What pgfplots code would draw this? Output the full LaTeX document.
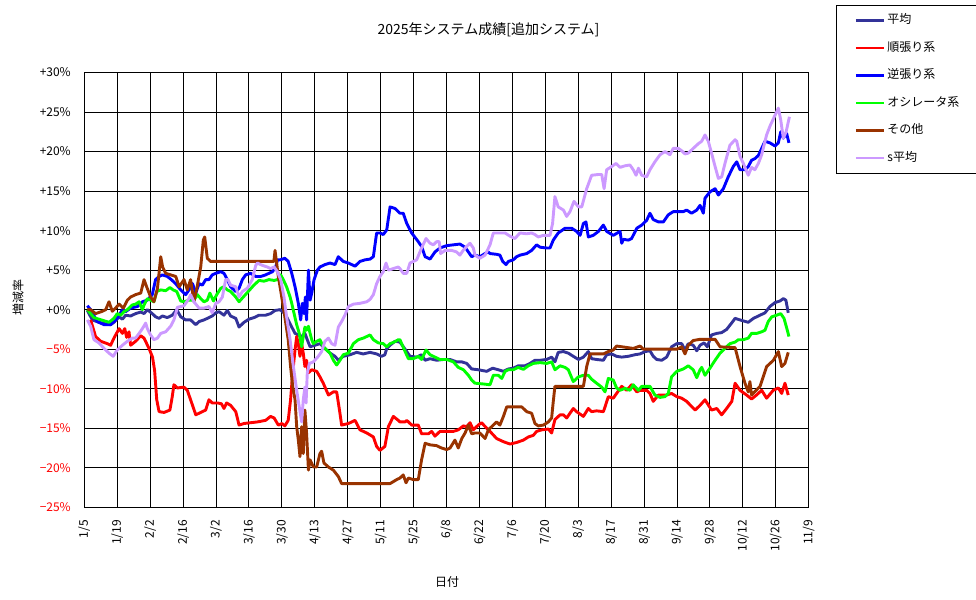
\documentclass[border=0pt]{standalone}
\usepackage{fontspec}
\setmainfont{Noto Sans CJK JP}
\usepackage{pgfplots}
\pgfplotsset{compat=1.18}
\definecolor{cavg}{HTML}{333399}
\definecolor{cjun}{HTML}{FF0000}
\definecolor{cgyaku}{HTML}{0000FF}
\definecolor{cosc}{HTML}{00FF00}
\definecolor{cother}{HTML}{993300}
\definecolor{csavg}{HTML}{CC99FF}
\begin{document}
\begin{tikzpicture}
\path[use as bounding box] (0pt,0pt) rectangle (976pt,-599pt);
\node[font=\fontsize{14}{14}\selectfont] at (488.5pt,-30pt) {2025年システム成績[追加システム]};
\node[font=\fontsize{12}{12}\selectfont] at (447pt,-582pt) {日付};
\node[font=\fontsize{12}{12}\selectfont, rotate=90] at (18pt,-297pt) {増減率};
\begin{axis}[
  at={(84.3pt,-507.3pt)}, anchor=south west,
  scale only axis, width=724.4pt, height=434.8pt,
  xmin=0, xmax=308, ymin=-25, ymax=30,
  xtick={0,14,28,42,56,70,84,98,112,126,140,154,168,182,196,210,224,238,252,266,280,294,308},
  xticklabels={1/5,1/19,2/2,2/16,3/2,3/16,3/30,4/13,4/27,5/11,5/25,6/8,6/22,7/6,7/20,8/3,8/17,8/31,9/14,9/28,10/12,10/26,11/9},
  ytick={0,5,10,15,20,25,30},
  yticklabels={+0\%,+5\%,+10\%,+15\%,+20\%,+25\%,+30\%},
  extra y ticks={-25,-20,-15,-10,-5},
  extra y tick labels={−25\%,−20\%,−15\%,−10\%,−5\%},
  extra y tick style={yticklabel style={text=red}, grid=major},
  grid=major, major grid style={black, line width=1pt},
  axis line style={black, line width=1pt},
  major tick length=0pt,
  tick label style={font=\fontsize{12}{12}\selectfont, inner sep=0pt},
  xticklabel style={rotate=90, anchor=east},
  xticklabel shift=12.7pt,
  yticklabel shift=13.3pt,
  legend cell align=left,
  legend image code/.code={\draw[#1] (0pt,0pt) -- (28pt,0pt);},
  legend style={at={(axis description cs:1.0377,1.1552)}, anchor=north west,
    draw=black, line width=1pt, inner xsep=18pt, inner ysep=9pt,
    row sep=15.5pt, column sep=2pt,
    font=\fontsize{12}{12}\selectfont,
    nodes={inner sep=0pt, text height=9pt, text depth=3pt}},
  every axis plot/.append style={line width=2.9pt, line join=round},
]
% 平均
\addplot[cavg] coordinates {
(1.3,-0.1) (3.4,-1.3) (6.2,-1.6) (9.1,-1.8) (11.2,-1.9) (12.6,-1.6) (14.8,-0.9) (16.2,-1.2) (17.6,-0.7) (19.7,-0.8) (21.8,-0.5) (24.0,-0.3) (25.4,-0.5) (26.8,0.0) (28.9,-0.5) (30.3,-0.9) (31.8,-1.1) (33.2,-0.8) (35.3,-1.0) (37.4,-0.7) (39.3,0.0) (41.0,-0.9) (43.1,-1.3) (45.2,-1.3) (47.4,-1.9) (48.8,-1.5) (50.9,-1.3) (53.0,-1.0) (54.4,-0.8) (55.9,-0.4) (57.3,-0.25) (59.4,-0.7) (60.8,-0.1) (62.2,-0.8) (64.4,-1.1) (65.8,-2.2) (67.9,-1.6) (70.0,-1.2) (72.2,-1.0) (74.3,-0.7) (77.1,-0.7) (79.2,-0.5) (81.1,-0.1) (83.2,0.0) (85.3,-0.5) (86.7,-1.3) (88.2,-2.2) (89.6,-3.0) (91.0,-3.2) (92.4,-3.4) (93.8,-3.0) (94.8,-3.8) (96.0,-4.7) (98.1,-4.5) (100.2,-4.3) (102.3,-4.9) (104.5,-5.5) (106.6,-5.9) (108.0,-6.4) (110.1,-5.9) (113.0,-5.7) (115.8,-5.4) (118.6,-5.6) (121.5,-5.4) (124.3,-5.6) (126.4,-5.9) (127.8,-5.7) (128.6,-4.9) (130.0,-4.5) (132.1,-4.0) (134.2,-4.1) (137.1,-5.3) (138.5,-5.9) (141.3,-6.0) (143.4,-5.7) (144.9,-6.4) (147.0,-6.2) (149.8,-6.4) (152.7,-6.3) (155.5,-6.3) (158.3,-6.6) (160.5,-6.6) (162.6,-6.8) (164.7,-7.5) (167.5,-7.6) (171.1,-7.8) (173.6,-7.4) (176.0,-7.6) (178.2,-7.8) (180.3,-7.5) (182.4,-7.4) (184.5,-7.1) (187.4,-7.1) (189.5,-6.8) (191.6,-6.4) (193.8,-6.4) (196.6,-6.3) (198.7,-6.0) (200.1,-6.6) (201.5,-5.4) (203.7,-5.3) (205.8,-5.5) (207.9,-5.9) (210.1,-6.3) (212.2,-6.0) (214.3,-5.3) (215.7,-6.2) (217.8,-6.3) (220.7,-6.4) (222.1,-5.7) (224.2,-5.6) (226.3,-5.9) (228.5,-6.0) (231.3,-5.9) (234.1,-5.7) (236.3,-5.6) (238.4,-5.3) (240.5,-5.2) (241.9,-5.9) (243.4,-6.3) (245.5,-6.4) (247.6,-6.0) (249.7,-4.7) (251.9,-4.3) (254.0,-4.3) (255.4,-5.1) (256.8,-4.3) (258.9,-4.5) (260.4,-5.2) (261.8,-4.5) (263.5,-4.2) (264.9,-4.7) (266.7,-3.2) (268.9,-3.0) (271.0,-2.9) (273.1,-2.5) (275.2,-1.7) (276.7,-1.1) (278.8,-1.3) (282.3,-1.6) (284.5,-1.1) (287.3,-0.7) (289.4,-0.4) (291.5,0.4) (293.7,0.9) (295.8,1.1) (297.2,1.4) (298.3,1.2) (299.3,-0.4)
};
\addlegendentry{平均}
% 順張り系
\addplot[cjun] coordinates {
(2.7,-1.3) (4.8,-3.4) (7.0,-4.0) (9.8,-4.3) (11.2,-4.5) (12.6,-3.6) (14.8,-2.4) (16.2,-3.0) (17.2,-2.4) (18.0,-3.5) (19.0,-2.8) (19.7,-4.5) (21.8,-4.0) (24.0,-3.3) (25.4,-3.6) (27.5,-4.9) (29.0,-6.0) (29.9,-7.7) (30.8,-11.4) (31.8,-12.9) (33.9,-13.0) (36.4,-12.7) (37.4,-11.0) (38.1,-9.5) (39.6,-9.9) (42.4,-9.8) (43.8,-10.2) (45.2,-11.4) (47.4,-13.3) (49.5,-13.0) (51.6,-12.7) (53.0,-11.4) (54.4,-11.8) (56.6,-11.8) (58.3,-11.9) (59.4,-12.5) (60.5,-11.8) (62.2,-12.1) (64.4,-12.9) (65.8,-14.6) (67.9,-14.4) (70.7,-14.3) (73.6,-14.2) (77.1,-14.0) (79.2,-13.5) (80.7,-13.7) (82.5,-14.6) (84.0,-14.4) (85.3,-14.7) (86.7,-14.0) (87.7,-11.4) (88.6,-8.0) (89.6,-5.1) (90.3,-3.4) (91.0,-4.3) (91.7,-5.9) (92.4,-4.3) (93.1,-5.5) (93.8,-7.2) (94.5,-6.4) (95.2,-8.0) (96.7,-7.6) (98.8,-7.8) (100.2,-8.5) (101.6,-9.3) (103.8,-10.8) (105.9,-10.4) (107.3,-10.4) (108.7,-13.1) (109.4,-14.6) (112.3,-14.4) (115.1,-14.0) (117.2,-15.2) (120.1,-15.6) (122.9,-16.1) (124.3,-17.3) (125.7,-17.8) (127.8,-17.3) (129.3,-14.8) (131.4,-13.5) (133.5,-14.0) (134.2,-14.2) (136.4,-14.2) (137.1,-14.0) (139.2,-14.6) (142.0,-14.6) (143.4,-15.7) (146.3,-15.7) (147.7,-15.4) (149.1,-16.0) (151.2,-15.4) (154.1,-15.4) (156.9,-15.4) (159.0,-15.2) (161.2,-14.7) (162.6,-14.8) (164.0,-14.3) (165.4,-15.2) (167.5,-14.6) (168.9,-14.3) (171.1,-15.0) (172.5,-15.4) (175.3,-16.3) (178.2,-16.7) (181.0,-17.0) (183.8,-16.8) (186.7,-16.5) (188.8,-16.1) (190.9,-15.9) (192.3,-15.4) (194.5,-15.2) (197.3,-15.1) (198.7,-15.6) (200.1,-13.9) (202.3,-13.3) (203.7,-13.3) (205.1,-13.7) (207.9,-12.5) (209.3,-12.9) (212.2,-13.5) (214.3,-12.5) (215.7,-12.9) (217.8,-12.8) (220.7,-12.9) (221.4,-12.3) (222.8,-11.0) (224.9,-11.2) (226.3,-10.6) (228.5,-9.7) (230.6,-10.2) (232.7,-9.5) (234.9,-10.4) (236.3,-10.2) (239.1,-10.2) (240.5,-10.6) (241.9,-11.6) (244.1,-10.8) (247.6,-10.8) (249.7,-10.6) (251.9,-11.0) (254.0,-11.2) (256.1,-11.6) (259.7,-12.7) (261.8,-12.1) (263.9,-11.4) (266.7,-12.7) (268.9,-12.5) (271.0,-13.3) (273.1,-12.5) (275.3,-11.6) (276.7,-9.3) (278.8,-10.2) (281.6,-10.8) (283.7,-11.3) (285.8,-10.8) (288.0,-10.2) (290.1,-11.2) (292.9,-10.2) (295.1,-9.9) (296.5,-10.6) (297.9,-9.3) (299.3,-10.8)
};
\addlegendentry{順張り系}
% 逆張り系
\addplot[cgyaku] coordinates {
(1.3,0.5) (2.7,0.0) (5.5,-1.5) (8.4,-1.9) (11.2,-1.9) (13.3,-1.3) (14.8,-0.7) (16.2,0.0) (17.6,-0.25) (19.7,0.2) (22.6,0.4) (24.7,1.0) (26.8,1.2) (28.9,1.9) (30.3,3.8) (31.8,4.2) (33.2,4.4) (35.3,4.2) (37.0,3.8) (38.8,3.3) (41.0,2.5) (43.1,1.9) (44.5,2.5) (46.0,3.3) (47.4,2.1) (48.8,3.3) (50.2,3.1) (51.6,3.8) (53.0,3.8) (54.4,4.4) (55.9,4.6) (58.0,4.8) (59.4,4.6) (60.8,3.8) (62.2,2.9) (64.4,2.3) (65.8,2.7) (67.2,3.8) (68.6,4.4) (70.7,4.6) (72.9,4.2) (75.0,4.2) (77.1,4.4) (78.5,4.6) (80.0,4.8) (81.4,5.4) (82.1,6.3) (83.2,6.3) (85.3,6.5) (86.7,6.1) (88.2,4.6) (89.6,2.9) (91.0,0.8) (92.0,-1.3) (92.7,0.8) (93.4,-0.5) (94.0,1.6) (94.5,-1.3) (95.3,5.0) (96.0,1.2) (96.7,2.1) (97.7,3.8) (99.1,5.0) (100.2,5.4) (102.3,5.7) (104.5,5.9) (106.6,5.7) (108.0,6.7) (110.1,6.1) (112.3,5.9) (115.1,5.5) (117.2,6.1) (119.3,6.3) (121.5,6.4) (122.9,6.7) (124.3,9.7) (125.7,9.7) (127.1,9.5) (128.6,10.1) (130.0,13.0) (132.1,12.8) (134.2,12.2) (135.6,12.2) (137.1,10.9) (139.2,9.7) (142.0,8.6) (143.4,8.0) (144.9,6.7) (147.0,6.4) (149.1,7.3) (151.2,7.8) (154.1,8.1) (156.9,8.2) (159.7,8.3) (161.9,7.9) (163.3,7.3) (164.7,6.7) (166.1,6.9) (168.2,6.7) (170.4,7.1) (171.8,7.3) (172.5,7.1) (175.3,7.0) (176.7,6.9) (177.9,6.1) (179.3,5.7) (180.3,6.1) (182.4,6.3) (183.8,6.7) (185.3,6.9) (188.1,7.1) (190.2,7.5) (192.3,8.2) (193.8,7.9) (196.6,7.8) (198.0,7.8) (199.4,8.8) (201.5,9.7) (204.4,10.3) (207.2,10.3) (209.3,9.9) (210.8,9.4) (212.2,10.9) (213.3,11.1) (214.3,9.2) (216.4,9.4) (218.6,9.9) (220.7,10.7) (222.1,9.9) (224.9,9.4) (227.8,9.9) (228.5,8.4) (229.2,8.9) (231.3,8.8) (232.7,9.0) (234.9,10.3) (237.0,10.7) (239.1,11.3) (240.5,12.2) (241.9,11.4) (244.1,11.1) (246.2,11.1) (248.3,12.0) (250.4,12.4) (254.7,12.4) (256.1,12.6) (258.2,12.2) (260.4,12.6) (261.8,13.2) (263.2,12.2) (263.9,14.1) (266.0,14.9) (268.2,15.3) (269.6,14.5) (271.7,15.3) (273.8,16.8) (275.9,18.1) (277.4,18.7) (278.8,17.7) (280.9,17.7) (282.3,18.1) (283.7,18.9) (285.1,19.1) (286.6,19.5) (288.0,20.4) (289.4,21.3) (291.5,21.1) (293.7,20.7) (295.1,21.1) (296.1,22.5) (297.2,21.7) (298.6,22.3) (299.6,21.1)
};
\addlegendentry{逆張り系}
% オシレータ系
\addplot[cosc] coordinates {
(1.3,0.0) (2.7,-0.5) (4.1,-1.0) (6.2,-1.2) (8.4,-1.4) (10.5,-1.6) (12.6,-1.1) (14.0,-0.5) (15.5,-0.7) (16.9,-0.25) (18.3,0.0) (20.4,0.6) (21.8,0.7) (23.3,1.0) (24.7,0.0) (25.4,0.6) (26.8,1.4) (28.2,1.2) (29.6,1.0) (30.8,2.3) (32.5,2.5) (34.6,2.4) (36.4,2.8) (37.8,2.5) (39.3,2.3) (41.0,1.1) (42.4,1.0) (44.5,1.2) (46.6,1.2) (48.1,1.9) (49.5,1.4) (50.9,1.0) (52.3,1.2) (53.4,2.1) (54.9,1.1) (56.3,1.9) (58.0,2.7) (59.4,2.9) (60.8,2.5) (62.2,2.3) (64.4,1.6) (65.8,1.0) (67.9,1.7) (70.0,2.4) (72.1,3.1) (74.3,3.7) (76.4,3.6) (78.5,3.8) (80.7,3.7) (82.1,3.8) (83.5,4.4) (84.6,3.8) (86.0,2.9) (87.5,1.6) (88.2,0.8) (89.2,-0.5) (90.3,-1.9) (91.4,-3.0) (92.4,-4.7) (93.1,-3.4) (93.8,-2.2) (94.5,-2.6) (95.3,-2.1) (96.0,-3.0) (96.7,-3.8) (97.4,-4.3) (98.8,-4.0) (100.2,-3.8) (101.6,-4.7) (103.0,-5.1) (104.5,-5.5) (105.9,-6.4) (107.3,-7.0) (108.7,-6.4) (110.1,-5.7) (112.3,-5.5) (114.4,-4.3) (116.5,-3.8) (118.6,-3.6) (121.5,-3.2) (122.9,-3.8) (125.0,-4.2) (127.1,-4.3) (128.6,-4.7) (130.0,-4.3) (132.1,-4.05) (133.5,-3.8) (134.2,-3.8) (136.4,-5.3) (137.8,-6.2) (139.9,-6.2) (142.0,-5.9) (143.4,-6.3) (145.3,-5.1) (147.0,-5.7) (149.1,-6.0) (151.2,-6.3) (154.1,-6.3) (156.9,-6.6) (159.0,-7.3) (161.2,-7.6) (163.3,-8.3) (164.7,-8.9) (166.1,-9.3) (169.7,-9.4) (172.5,-9.5) (173.9,-8.3) (176.0,-8.3) (177.5,-8.7) (178.9,-7.8) (180.3,-7.6) (182.4,-7.6) (184.5,-7.3) (186.7,-7.55) (188.8,-7.1) (190.9,-6.8) (193.8,-6.7) (196.6,-6.8) (198.7,-6.6) (200.1,-7.6) (202.3,-7.1) (204.4,-7.3) (205.8,-7.6) (207.9,-9.1) (210.1,-8.5) (212.2,-8.3) (214.3,-8.3) (215.7,-8.8) (217.8,-9.3) (220.0,-9.8) (221.4,-10.4) (222.8,-8.7) (224.9,-8.9) (226.3,-9.9) (227.8,-10.2) (229.9,-9.95) (232.0,-10.2) (233.4,-9.5) (235.6,-10.2) (237.0,-9.7) (239.1,-9.7) (240.5,-9.7) (242.6,-10.8) (244.8,-11.1) (246.9,-11.0) (248.3,-10.6) (249.7,-8.5) (251.9,-7.8) (254.7,-7.5) (256.8,-7.1) (258.9,-7.6) (260.4,-8.6) (261.8,-7.6) (262.5,-7.3) (263.9,-8.3) (266.0,-7.4) (268.2,-6.4) (270.3,-5.5) (272.4,-4.9) (274.5,-4.3) (276.7,-4.1) (278.1,-3.8) (280.2,-3.8) (282.3,-3.6) (283.7,-3.0) (285.9,-3.0) (288.0,-2.8) (289.4,-2.6) (290.8,-1.5) (292.3,-0.9) (294.4,-0.7) (296.1,-0.5) (297.5,-1.1) (298.9,-2.6) (299.6,-3.4)
};
\addlegendentry{オシレータ系}
% その他
\addplot[cother] coordinates {
(1.3,0.0) (2.7,0.0) (4.8,-0.5) (7.7,-0.2) (9.1,0.0) (10.5,1.0) (11.9,-0.2) (13.3,0.2) (14.8,0.7) (16.6,0.2) (18.3,1.2) (19.7,1.6) (21.8,1.9) (24.0,2.1) (25.4,3.8) (26.5,2.9) (28.2,1.6) (29.6,1.0) (31.1,2.7) (32.5,6.7) (33.3,5.4) (34.6,4.6) (36.7,4.4) (38.9,4.2) (40.3,2.9) (42.4,3.8) (43.8,2.5) (45.2,3.8) (46.6,1.0) (48.1,3.1) (49.5,5.4) (50.6,8.8) (51.2,9.2) (52.3,6.5) (53.7,6.1) (80.6,6.1) (81.1,7.5) (82.5,4.2) (84.6,0.4) (86.7,-3.8) (87.7,-7.2) (88.6,-9.7) (89.6,-11.4) (90.3,-14.8) (91.0,-16.5) (91.7,-18.6) (92.4,-14.8) (93.1,-18.2) (93.8,-12.7) (94.5,-15.6) (95.3,-20.3) (96.0,-19.0) (97.4,-19.9) (98.8,-19.9) (100.2,-18.2) (100.9,-17.9) (101.9,-19.4) (103.8,-19.9) (105.9,-20.3) (108.0,-21.1) (109.4,-22.0) (130.0,-22.0) (132.8,-21.5) (134.2,-21.3) (135.6,-20.9) (136.8,-21.9) (137.8,-21.3) (139.9,-21.5) (142.0,-21.5) (143.4,-19.0) (144.9,-16.9) (147.0,-17.1) (149.8,-17.2) (151.9,-17.5) (154.1,-17.7) (155.5,-17.5) (157.6,-16.5) (159.0,-17.5) (160.5,-16.3) (161.9,-15.6) (163.3,-14.6) (164.7,-15.7) (166.1,-15.6) (168.2,-15.6) (170.4,-16.3) (171.8,-15.2) (173.2,-14.8) (175.3,-14.2) (176.7,-14.6) (178.2,-13.5) (179.6,-12.3) (186.0,-12.3) (188.1,-12.9) (190.2,-13.1) (191.6,-14.4) (193.0,-14.7) (195.2,-14.6) (197.3,-14.2) (198.7,-13.7) (199.4,-11.6) (200.1,-9.7) (212.2,-9.7) (213.6,-7.2) (215.0,-5.6) (220.7,-5.6) (222.8,-5.3) (224.9,-5.1) (226.3,-4.6) (233.4,-4.9) (236.3,-4.6) (237.7,-5.0) (251.9,-5.0) (254.0,-4.7) (255.4,-5.6) (256.8,-4.5) (258.9,-3.9) (261.8,-3.75) (268.2,-3.75) (270.3,-4.7) (276.7,-4.8) (278.8,-7.2) (280.9,-9.3) (282.3,-10.4) (283.0,-9.1) (283.7,-10.8) (287.3,-9.7) (290.1,-7.2) (293.0,-6.4) (295.1,-5.3) (296.5,-7.2) (297.9,-6.8) (299.3,-5.4)
};
\addlegendentry{その他}
% s平均
\addplot[csavg] coordinates {
(1.3,-1.3) (2.7,-2.1) (4.1,-3.8) (6.2,-4.2) (8.4,-4.9) (10.5,-5.5) (12.3,-5.9) (14.0,-5.1) (16.2,-4.5) (18.3,-4.0) (20.4,-3.6) (21.8,-3.6) (23.3,-3.0) (24.7,-2.4) (26.1,-1.7) (26.8,-2.4) (28.2,-3.2) (29.6,-3.8) (31.1,-3.6) (32.5,-3.0) (34.6,-2.8) (36.7,-2.1) (38.1,-1.3) (39.6,0.3) (42.4,0.5) (44.5,1.4) (45.2,1.9) (46.6,1.0) (48.8,0.2) (50.9,0.2) (53.0,0.4) (54.4,-0.4) (55.9,0.8) (57.3,1.0) (58.7,1.6) (60.1,3.8) (61.1,3.8) (62.2,3.1) (64.4,2.9) (65.8,1.6) (67.2,2.3) (69.3,2.7) (71.4,3.8) (72.9,5.6) (73.6,5.9) (75.7,5.6) (77.8,5.4) (79.2,5.2) (80.7,5.4) (82.1,4.8) (83.5,3.8) (84.9,1.6) (86.0,-0.9) (87.5,-3.8) (88.9,-7.2) (90.3,-10.2) (91.4,-12.3) (92.4,-14.2) (93.1,-11.4) (93.8,-9.8) (94.3,-11.8) (94.8,-8.0) (95.7,-6.8) (97.4,-6.6) (99.5,-5.9) (100.9,-5.3) (102.3,-4.0) (103.8,-3.6) (105.2,-4.3) (106.6,-4.5) (108.0,-2.2) (109.4,-1.5) (110.8,-0.7) (112.3,0.4) (114.4,0.7) (117.2,0.8) (120.1,1.0) (121.5,1.3) (122.9,1.9) (124.3,3.3) (125.7,4.2) (127.1,4.8) (128.3,5.9) (129.3,5.0) (131.4,5.2) (133.5,5.4) (134.2,5.2) (135.6,4.6) (137.1,4.6) (138.5,5.9) (141.3,6.3) (143.4,7.8) (145.3,9.0) (147.0,8.4) (148.4,8.2) (149.8,8.6) (150.9,8.6) (151.5,7.1) (153.4,7.5) (156.2,7.5) (158.3,7.3) (159.7,6.9) (161.2,7.55) (162.6,8.0) (164.0,8.4) (165.4,7.8) (166.1,6.9) (168.2,6.5) (170.4,6.9) (172.5,8.2) (173.9,9.7) (176.7,9.7) (178.9,9.7) (181.0,9.3) (183.1,9.0) (185.2,9.7) (188.1,9.6) (190.2,9.7) (191.6,9.5) (193.0,9.2) (195.2,9.4) (198.0,9.4) (199.1,10.9) (200.1,14.3) (201.5,13.0) (203.7,12.6) (205.1,11.8) (206.5,12.4) (208.2,13.7) (210.1,13.0) (211.5,13.0) (213.6,15.3) (215.7,17.0) (218.6,17.1) (220.0,17.1) (221.0,15.3) (222.1,17.7) (224.2,18.1) (226.1,18.5) (227.8,18.0) (229.9,18.2) (232.0,18.3) (233.4,17.7) (234.6,17.0) (235.6,17.9) (237.0,17.0) (239.1,16.8) (240.5,17.7) (242.6,18.7) (244.8,19.6) (246.9,20.0) (249.0,19.6) (250.4,20.4) (252.6,20.4) (254.0,20.1) (255.4,19.7) (256.8,19.8) (258.9,20.4) (261.1,21.0) (262.5,21.3) (263.9,22.1) (265.3,21.3) (266.7,19.8) (268.2,18.1) (269.6,16.6) (271.0,16.8) (272.4,18.5) (274.5,20.8) (276.7,21.5) (277.4,21.3) (278.8,19.4) (280.2,18.5) (281.6,17.5) (282.3,17.0) (283.7,18.0) (285.1,17.7) (286.6,18.5) (288.0,19.6) (290.1,22.1) (291.5,23.2) (293.7,24.6) (295.1,25.5) (296.1,24.0) (297.2,21.7) (298.4,22.5) (299.8,24.4)
};
\addlegendentry{s平均}
\end{axis}
\end{tikzpicture}
\end{document}
